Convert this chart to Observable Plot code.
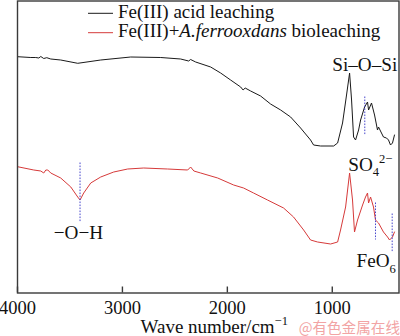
<!DOCTYPE html>
<html><head><meta charset="utf-8">
<script src="https://cdn.jsdelivr.net/npm/d3@7"></script>
<script src="https://cdn.jsdelivr.net/npm/@observablehq/plot@0.6"></script>
<style>html,body{margin:0;padding:0;background:#fff}</style>
</head><body><div id="chart"></div>
<script>
const xTicks = [4000, 3000, 2000, 1000];
const seriesNames = ["Fe(III) acid leaching", "Fe(III)+A.ferrooxdans bioleaching"];
const seriesColors = ["#1a1a1a", "#d63a3a"];

// Fe(III) acid leaching (transmittance, arbitrary units)
const acidWave = [4000,3873,3826,3797,3778,3750,3721,3683,3588,3426,
  3207,2921,2635,2445,2369,2350,2302,2159,2064,1969,
  1873,1850,1830,1778,1683,1588,1492,1397,1302,1207,
  1178,1111,987,949,902,864,835,816,797,778,
  749,730,692,664,654,626,597,569,559,531,
  512,483,464,445,426,407];
const acidT = [236.3,235.5,235.5,235,236.5,234.5,235.3,234,233,229.7,
  233,236,235.5,234,232,233.5,231,226,220,213,
  206,203,205,202,197,189,183,176,165,153,
  148,147,147,150,170,198,220,193,156,153,
  163,173,186,191,183,190,178,163,166,160,
  156,155,153,148,150,158];

// Fe(III)+A.ferrooxdans bioleaching
const bioWave = [4000,3845,3778,3750,3730,3711,3683,3588,3492,3426,
  3404,3369,3302,3207,3083,2950,2797,2569,2378,2350,
  2319,2254,2092,1940,1845,1750,1617,1464,1369,1273,
  1207,1140,1016,949,921,873,835,807,788,759,
  711,683,664,654,635,607,588,559,512,473,
  454,426,407];
const bioT = [126.3,123,122,120,123,123,120,115,106,96,
  93,100,110,116,121,124,125,124,123,126,
  122,120,115,108,105,100,93,85,76,63,
  53,51,49,51,63,86,120,93,61,73,
  88,96,100,90,96,86,73,70,61,56,
  53,56,61];

// dotted peak markers
const peakWave = [3404, 690, 588, 429];
const peakTop = [130, 196, 90, 79];
const peakBottom = [71, 158, 53, 41];

// annotations
const annotText = ["Si–O–Si", "SO_4^{2−}", "FeO_6", "−O−H"];
const annotWave = [1000, 848, 769, 3654];
const annotT = [222.5, 122.5, 25.8, 54.2];

const xLabel = "Wave number/cm^{−1}";
const watermark = "@有色金属在线";

const SERIF = "'Liberation Serif','Times New Roman',serif";
const FS = 18.5;     // tick labels
const FSA = 19.2;    // annotations
const FSG = 19;      // legend
const FSL = 19;      // axis label

const acid = acidWave.map((w, i) => ({w, t: acidT[i]}));
const bio = bioWave.map((w, i) => ({w, t: bioT[i]}));
const peaks = peakWave.map((w, i) => ({w, y1: peakTop[i], y2: peakBottom[i]}));
const annots = annotText.map((s, i) => ({s, w: annotWave[i], t: annotT[i]}));

const plot = Plot.plot({
  width: 400, height: 336,
  marginLeft: 17, marginRight: 1.5, marginTop: 0.5, marginBottom: 43.5,
  style: {fontFamily: SERIF, fontSize: FS + "px", background: "#fff", color: "#111"},
  x: {domain: [4000, 364], label: null},
  y: {domain: [0, 292], axis: null},
  marks: [
    Plot.line(acid, {x: "w", y: "t", stroke: seriesColors[0], strokeWidth: 1}),
    Plot.line(bio, {x: "w", y: "t", stroke: seriesColors[1], strokeWidth: 1}),
    Plot.ruleX(peaks, {x: "w", y1: "y1", y2: "y2", stroke: "#4848cc", strokeWidth: 1, strokeDasharray: "1.6,1.4"}),
    Plot.text(annots, {x: "w", y: "t", text: "s", textAnchor: "start", lineAnchor: "bottom", fontSize: FSA, fill: "#111"}),
    Plot.frame({stroke: "#3a3a3a", strokeWidth: 1.4}),
    Plot.ruleX(xTicks, {x: d => d, insetTop: 286, stroke: "#3a3a3a", strokeWidth: 1.4}),
    Plot.axisX({ticks: xTicks, tickSize: 0, tickPadding: 7.5, tickFormat: d => String(d), fontSize: FS, label: null}),
    Plot.text([xLabel], {frameAnchor: "bottom", text: d => d, textAnchor: "middle", lineAnchor: "bottom", dy: 40.2, dx: 6, fontSize: FSL, fill: "#111"}),
    Plot.text([watermark], {frameAnchor: "bottom-right", text: d => d, textAnchor: "end", lineAnchor: "bottom", dy: 39.5, dx: 1, fontSize: 14.6, fontFamily: "'Noto Sans CJK SC',sans-serif", fill: "#f2a4a4"})
  ]
});

const svgns = "http://www.w3.org/2000/svg";
function rich(el, str, fs) {
  while (el.firstChild) el.removeChild(el.firstChild);
  const re = /([_^])\{([^}]*)\}|([_^])(.)|([^_^]+)/g;
  let m, cur = 0;
  while ((m = re.exec(str))) {
    const kind = m[1] || m[3] || "";
    const txt = m[2] !== undefined ? m[2] : m[4] !== undefined ? m[4] : m[5];
    const target = kind === "_" ? 0.3 * fs : kind === "^" ? -0.42 * fs : 0;
    const ts = document.createElementNS(svgns, "tspan");
    if (target - cur !== 0) ts.setAttribute("dy", (target - cur).toFixed(2));
    if (kind) ts.setAttribute("font-size", (0.68 * fs).toFixed(2));
    ts.textContent = txt;
    el.appendChild(ts);
    cur = target;
  }
}
d3.select(plot).selectAll("text").each(function () {
  const s = this.textContent;
  if (/[_^]/.test(s)) rich(this, s, +(this.getAttribute("font-size") || FS));
});

// legend (inside the frame)
const lg = d3.select(plot).append("g")
  .attr("font-family", SERIF).attr("font-size", FSG).attr("fill", "#111").attr("text-anchor", "start");
seriesNames.forEach((name, i) => {
  const ly = 13.3 + i * 19.4;
  lg.append("line").attr("x1", 88).attr("x2", 113).attr("y1", ly).attr("y2", ly)
    .attr("stroke", seriesColors[i]).attr("stroke-width", 1);
  const t = lg.append("text").attr("x", 118).attr("y", 18 + i * 19).attr("text-anchor", "start");
  name.split(/(A\.ferrooxdans)/).forEach(p => {
    if (!p) return;
    const ts = t.append("tspan").text(p);
    if (p === "A.ferrooxdans") ts.attr("font-style", "italic");
  });
});

document.getElementById("chart").appendChild(plot);
</script>
</body></html>
